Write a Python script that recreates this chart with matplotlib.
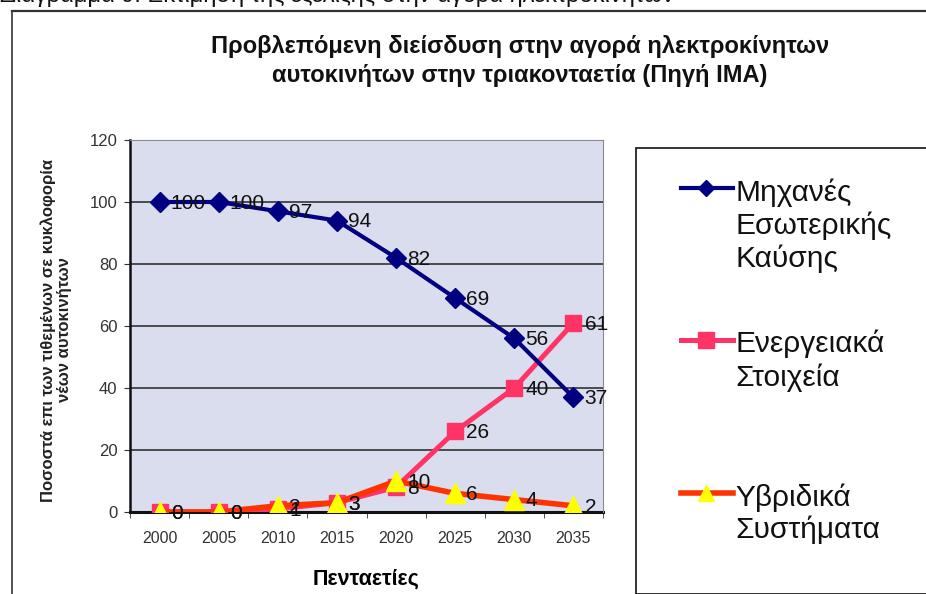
import matplotlib.pyplot as plt
from matplotlib.lines import Line2D
from matplotlib.patches import Rectangle

plt.rcParams['font.family'] = ['Liberation Sans', 'DejaVu Sans']

# projected market share per five-year step
years = ['2000', '2005', '2010', '2015', '2020', '2025', '2030', '2035']
ice = [100, 100, 97, 94, 82, 69, 56, 37]
batteries = [0, 0, 1, 3, 8, 26, 40, 61]
hybrids = [0, 0, 2, 3, 10, 6, 4, 2]

series_names = ['Μηχανές\nΕσωτερικής\nΚαύσης', 'Ενεργειακά\nΣτοιχεία', 'Υβριδικά\nΣυστήματα']

W, H = 926, 594
fig = plt.figure(figsize=(W / 100, H / 100), dpi=100)


def fx(px):
    return px / W


def fy(py):
    return 1 - py / H


# page caption cut off at the top and the outer frame
fig.text(fx(0), fy(2), 'Διάγραμμα 9: Εκτίμηση της εξέλιξης στην αγορά ηλεκτροκινήτων',
         fontsize=17, va='baseline', ha='left', color='#111111')
fig.add_artist(Line2D([fx(12), 1], [fy(11), fy(11)], color='#333333', lw=1.6))
fig.add_artist(Line2D([fx(12), fx(12)], [fy(11), 0], color='#333333', lw=1.2))

ax = fig.add_axes([fx(130), fy(512), fx(603) - fx(130), fy(140) - fy(512)])
ax.set_facecolor('#d9ddee')

x = list(range(len(years)))
ax.plot(x, ice, color='#000080', lw=3, marker='D', ms=10, zorder=5)
ax.plot(x, batteries, color='#ff3366', lw=3.6, marker='s', ms=11.5, zorder=4)
ax.plot(x, hybrids, color='#ff3300', lw=4, marker='^', ms=14,
        mfc='#ffff00', mec='#ffff00', zorder=6)

for vals in (ice, batteries, hybrids):
    for i, v in enumerate(vals):
        ax.annotate(str(v), (i, v), xytext=(8, -1), textcoords='offset points',
                    fontsize=15, va='center', ha='left', color='#111111',
                    zorder=7, annotation_clip=False)

ax.set_xlim(-0.49, 7.21)
ax.set_ylim(0, 120)
ax.set_yticks(range(0, 121, 20))
ax.set_xticks(x)
ax.set_xticklabels(years)
ax.set_xticks([i + 0.5 for i in range(-1, 8)], minor=True)
ax.tick_params(axis='x', which='major', length=0, pad=14, labelsize=11.5, labelcolor='#333333')
ax.tick_params(axis='x', which='minor', length=4, color='#333333')
ax.tick_params(axis='y', length=4, pad=5, labelsize=12, labelcolor='#333333', color='#333333')

for yv in range(20, 101, 20):
    ax.axhline(yv, color='#333333', lw=1.2, zorder=1)

ax.spines['left'].set_color('#111111')
ax.spines['left'].set_linewidth(1.8)
ax.spines['bottom'].set_color('#111111')
ax.spines['bottom'].set_linewidth(2.2)
ax.spines['bottom'].set_zorder(2)
for s in ('top', 'right'):
    ax.spines[s].set_color('#8a8a8a')
    ax.spines[s].set_linewidth(0.8)

ax.set_xlabel('Πενταετίες', fontsize=15.5, fontweight='bold', labelpad=16)
fig.text(fx(56), fy(330), 'Ποσοστά επι των τιθεμένων σε κυκλοφορία\nνέων αυτοκινήτων',
         rotation=90, fontsize=12, fontweight='bold', ha='center', va='center',
         multialignment='center', linespacing=1.1, color='#222222')

fig.text(fx(520), fy(61), 'Προβλεπόμενη διείσδυση στην αγορά ηλεκτροκίνητων\n'
         'αυτοκινήτων στην τριακονταετία (Πηγή ΙΜΑ)',
         fontsize=17, fontweight='bold', ha='center', va='center', linespacing=1.3,
         color='#111111')

# legend box on the right
fig.add_artist(Rectangle((fx(636), 0), 1, fy(148), transform=fig.transFigure,
                         facecolor='white', edgecolor='#111111', lw=1.2))
legend_rows = [
    (188, dict(color='#000080', lw=3, marker='D', ms=8, mfc='#000080', mec='#000080')),
    (340, dict(color='#ff3366', lw=3.6, marker='s', ms=11, mfc='#ff3366', mec='#ff3366')),
    (493, dict(color='#ff3300', lw=4, marker='^', ms=12, mfc='#ffff00', mec='#ffff00')),
]
for (py, style), name in zip(legend_rows, series_names):
    fig.add_artist(Line2D([fx(681), fx(706), fx(733)], [fy(py)] * 3,
                          markevery=[1], **style))
    fig.text(fx(735), fy(py - 10), name, fontsize=21.5, ha='left', va='top',
             linespacing=1.2, color='#111111')

fig.savefig('out.png', dpi=100)
